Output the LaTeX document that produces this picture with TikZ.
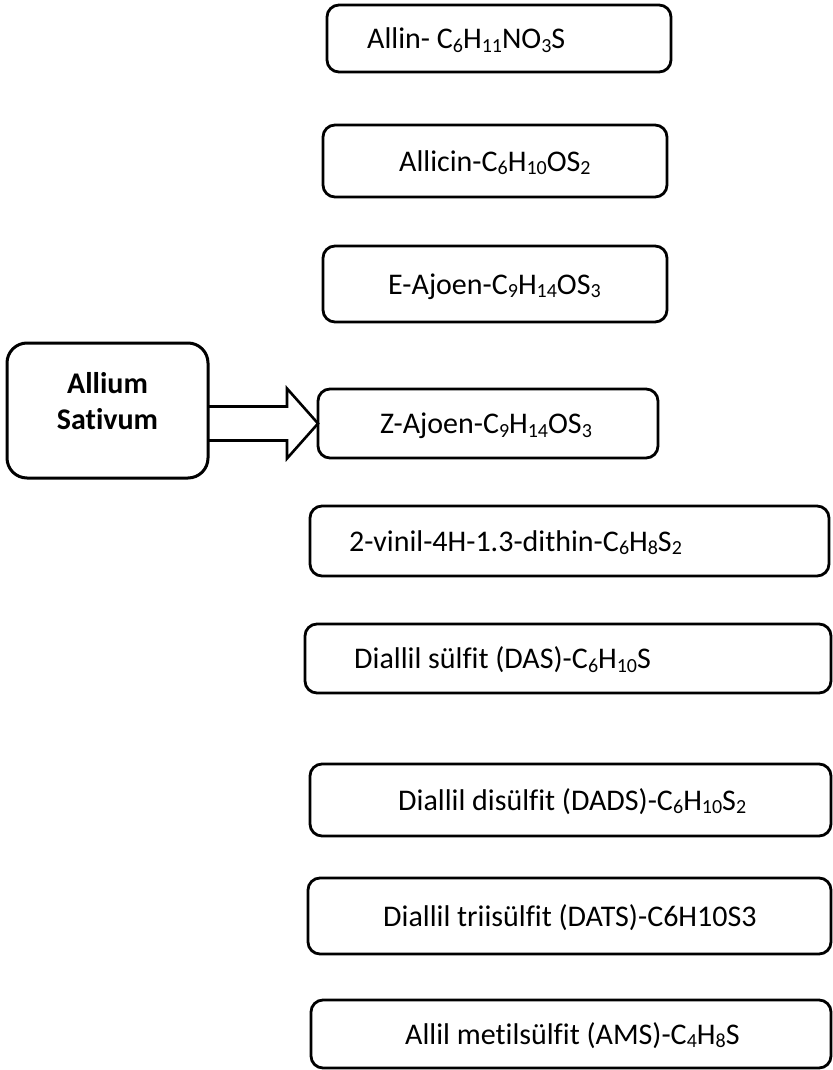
\documentclass[tikz,border=0pt]{standalone}
\usepackage{fontspec}
\setmainfont{Carlito}[Ligatures={NoCommon}]
\newcommand\chs[1]{\raisebox{-0.12em}{\fontsize{20}{20}\selectfont #1}}
\begin{document}
\begin{tikzpicture}[x=1pt,y=-1pt,
  box/.style={draw=black, line width=2.8pt, rounded corners=12pt, minimum width=#1, inner sep=0pt, outer sep=0pt},
  srcbox/.style={draw=black, line width=3pt, rounded corners=20pt, inner sep=0pt, outer sep=0pt, minimum width=201pt, minimum height=135pt},
  lbl/.style={anchor=base west, inner sep=0pt, font=\fontsize{30}{36.6}\selectfont},
  blockarr/.style={draw=black, line width=2.6pt, line join=miter}]
\useasboundingbox (0,0) rectangle (832,1070);
% source
\node[srcbox] (allium) at (107.5,410.5) {};
\node[inner sep=0pt, align=center, font=\bfseries\fontsize{30}{36.6}\selectfont] (alliumtxt) at (107.5,401) {Allium\\Sativum};
% boxes
\node[box=344pt, minimum height=67pt] (allin)   at (499,38.5) {};
\node[box=344pt, minimum height=72pt] (allicin) at (495,161) {};
\node[box=344pt, minimum height=76pt] (eajoen)  at (495,284) {};
\node[box=340pt, minimum height=69pt] (zajoen)  at (488,423.5) {};
\node[box=519pt, minimum height=70pt] (vinil)   at (569.5,541) {};
\node[box=526pt, minimum height=69pt] (das)     at (568,658.5) {};
\node[box=521pt, minimum height=72pt] (dads)    at (570.5,800) {};
\node[box=523pt, minimum height=76pt] (dats)    at (569.5,916) {};
\node[box=520pt, minimum height=68pt] (ams)     at (571,1034) {};
% labels
\node[lbl] (tallin)   at (367,48.5) {Allin- C\chs{6}H\chs{11}NO\chs{3}S};
\node[lbl] (tallicin) at (399,171) {Allicin-C\chs{6}H\chs{10}OS\chs{2}};
\node[lbl] (teajoen)  at (388,294) {E-Ajoen-C\chs{9}H\chs{14}OS\chs{3}};
\node[lbl] (tzajoen)  at (380,433.5) {Z-Ajoen-C\chs{9}H\chs{14}OS\chs{3}};
\node[lbl] (tvinil)   at (349,551) {2-vinil-4H-1.3-dithin-C\chs{6}H\chs{8}S\chs{2}};
\node[lbl] (tdas)     at (354,668.5) {Diallil sülfit (DAS)-C\chs{6}H\chs{10}S};
\node[lbl] (tdads)    at (398,810) {Diallil disülfit (DADS)-C\chs{6}H\chs{10}S\chs{2}};
\node[lbl] (tdats)    at (383,926) {Diallil triisülfit (DATS)-C6H10S3};
\node[lbl] (tams)     at (405,1044) {Allil metilsülfit (AMS)-C\chs{4}H\chs{8}S};
% block arrow
\draw[blockarr] (allium.east |- zajoen.west) ++(0,-17) -- ++(79,0) -- ++(0,-18) -- (zajoen.west) -- ++(-31,35) -- ++(0,-18) -- ++(-79,0);
\end{tikzpicture}
\end{document}
